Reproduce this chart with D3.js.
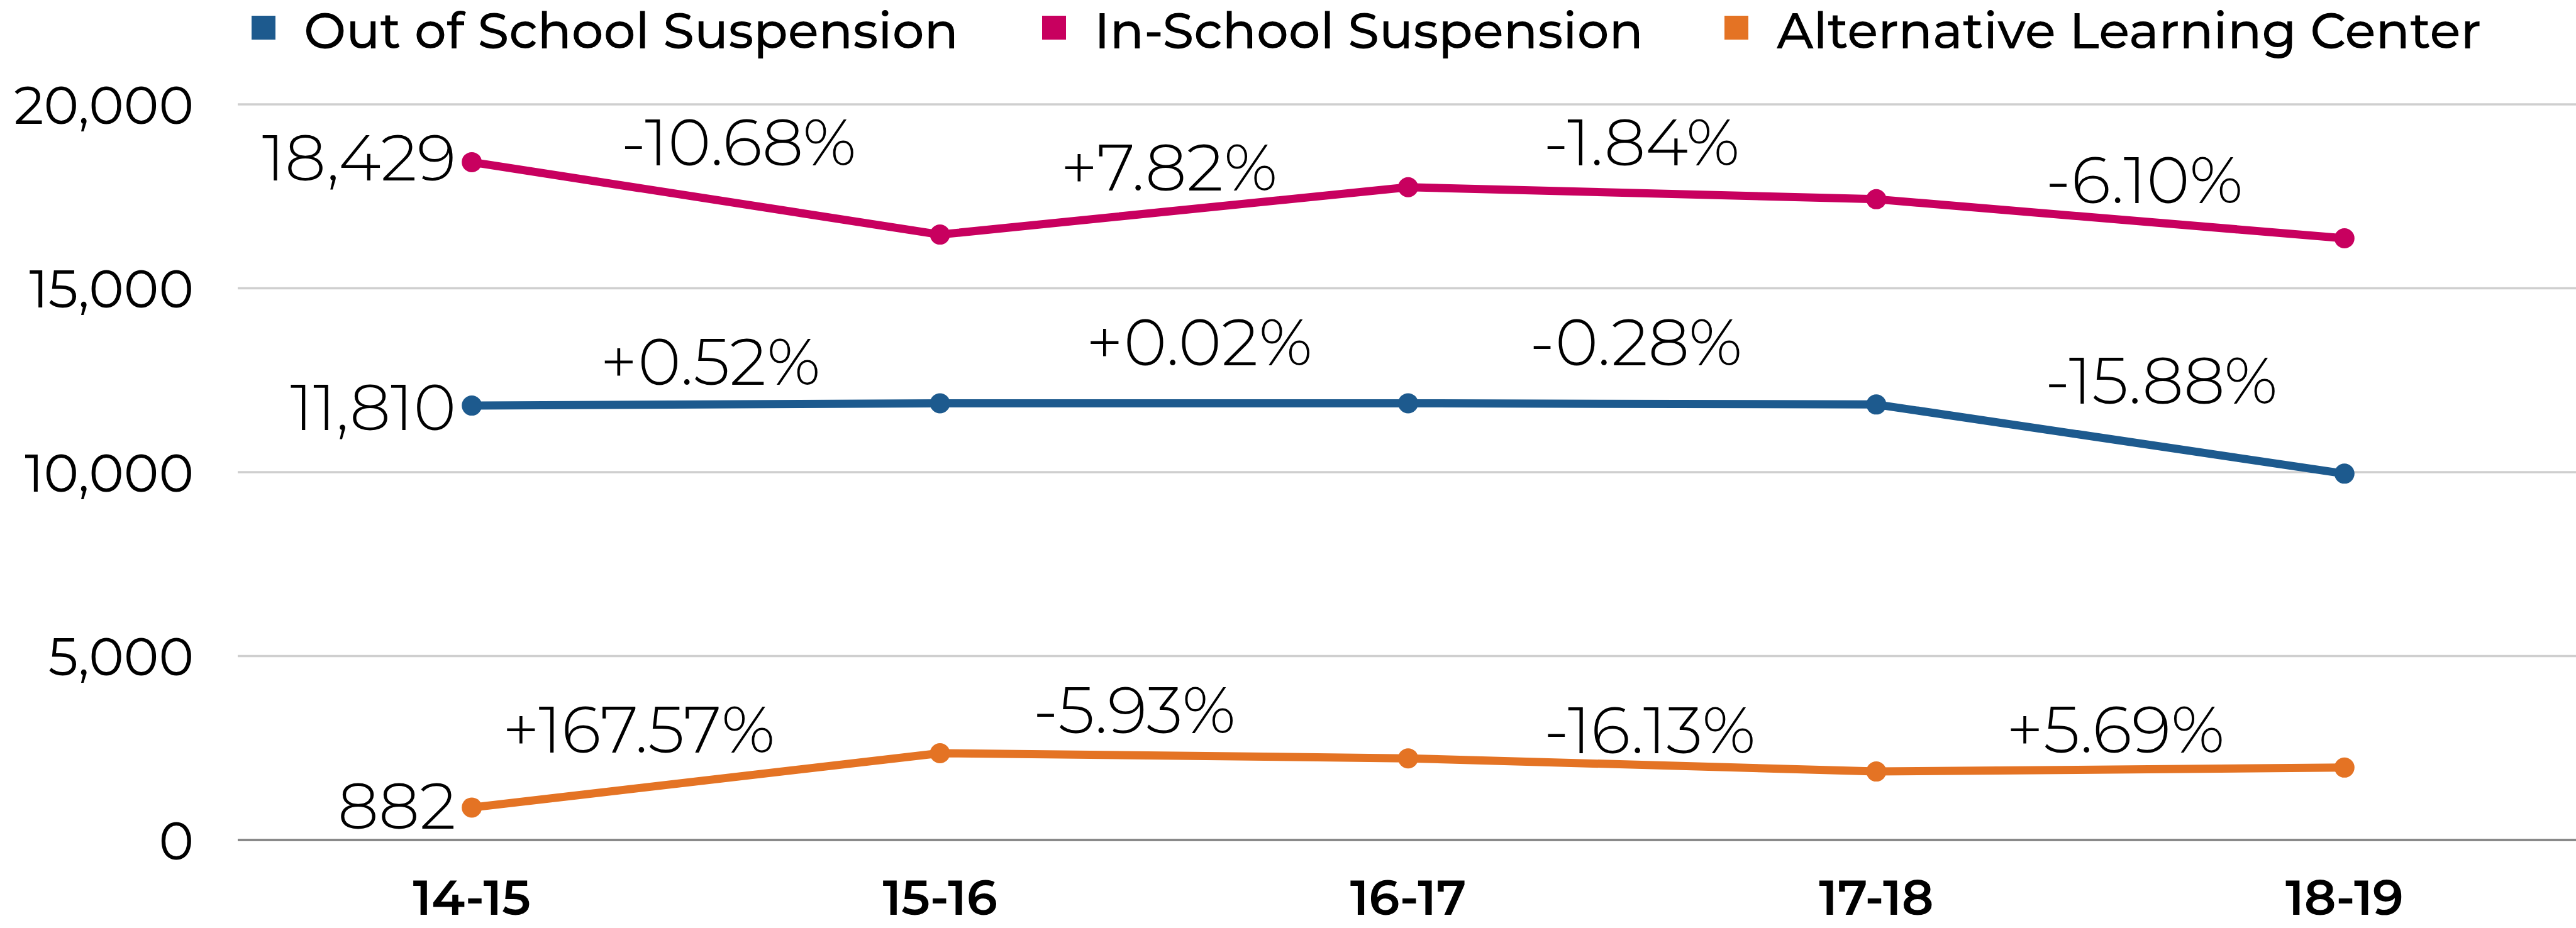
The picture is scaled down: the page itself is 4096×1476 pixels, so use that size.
<!DOCTYPE html>
<html>
<head>
<meta charset="utf-8">
<script src="https://cdn.jsdelivr.net/npm/d3@7"></script>
<style>
  html, body { margin: 0; padding: 0; background: #fff; }
  svg { display: block; }
</style>
</head>
<body>
<div id="chart"></div>
<script>
// chart data
const years = ["14-15", "15-16", "16-17", "17-18", "18-19"];
const seriesNames = ["Out of School Suspension", "In-School Suspension", "Alternative Learning Center"];
const seriesColors = ["#1D5A8E", "#C8005F", "#E47324"];
const outOfSchool = [11810, 11871, 11873, 11840, 9960];
const inSchool = [18429, 16460, 17748, 17421, 16358];
const altLearning = [882, 2360, 2220, 1862, 1968];
const outOfSchoolPct = ["+0.52%", "+0.02%", "-0.28%", "-15.88%"];
const inSchoolPct = ["-10.68%", "+7.82%", "-1.84%", "-6.10%"];
const altLearningPct = ["+167.57%", "-5.93%", "-16.13%", "+5.69%"];
const yTicks = [0, 5000, 10000, 15000, 20000];

// hand placed label nudges (dx, dy from the segment midpoint)
const pctNudge = [
  [[7, -31], [40, -60], [-10, -61], [81, -56]],
  [[52, -52], [-8, -32], [-1, -44], [54, -25]],
  [[-107, -44], [-63, -36], [12, -19], [8, -27]]
];
const firstLabelDy = [39, 29, 34];

const W = 4096, H = 1476;
const margin = { left: 378, right: 4100, top: 166, bottom: 1336 };
const FONT = "Montserrat, Lato, 'Open Sans', sans-serif";

const svg = d3.select("#chart").append("svg")
  .attr("width", W).attr("height", H)
  .attr("viewBox", [0, 0, W, H]);

const x = d3.scaleBand().domain(years).range([margin.left, margin.right]).padding(0);
const cx = (d) => x(d) + x.bandwidth() / 2;
const y = d3.scaleLinear().domain([0, 20000]).range([margin.bottom, margin.top]);

// gridlines
svg.append("g")
  .selectAll("line")
  .data(yTicks.filter((t) => t > 0))
  .join("line")
  .attr("x1", margin.left).attr("x2", margin.right)
  .attr("y1", (d) => y(d)).attr("y2", (d) => y(d))
  .attr("stroke", "#CFCFCF").attr("stroke-width", 3.5);

// y axis labels
const yAxis = d3.axisLeft(y).tickValues(yTicks).tickFormat(d3.format(",")).tickSize(0).tickPadding(0);
const yg = svg.append("g").attr("transform", "translate(308,0)").call(yAxis);
yg.select(".domain").remove();
yg.selectAll("text")
  .attr("font-family", FONT).attr("font-size", 84).attr("font-weight", 400)
  .attr("fill", "#000").attr("dy", "0.36em");

// x axis baseline
svg.append("line")
  .attr("x1", margin.left).attr("x2", margin.right)
  .attr("y1", y(0)).attr("y2", y(0))
  .attr("stroke", "#8A8A8A").attr("stroke-width", 4);

const xAxis = d3.axisBottom(x).tickSize(0).tickPadding(0);
const xg = svg.append("g").attr("transform", "translate(0,1455)").call(xAxis);
xg.select(".domain").remove();
xg.selectAll("text")
  .attr("font-family", FONT).attr("font-size", 78).attr("font-weight", 600)
  .attr("fill", "#000").attr("dy", 0);

// series
const allSeries = [outOfSchool, inSchool, altLearning];
const allPct = [outOfSchoolPct, inSchoolPct, altLearningPct];

const line = d3.line().x((d, i) => cx(years[i])).y((d) => y(d));

allSeries.forEach((vals, s) => {
  const g = svg.append("g").attr("data-name", seriesNames[s]);
  g.append("path")
    .datum(vals)
    .attr("d", line)
    .attr("fill", "none")
    .attr("stroke", seriesColors[s])
    .attr("stroke-width", 13)
    .attr("stroke-linejoin", "round");

  g.selectAll("circle")
    .data(vals)
    .join("circle")
    .attr("cx", (d, i) => cx(years[i]))
    .attr("cy", (d) => y(d))
    .attr("r", 16)
    .attr("fill", seriesColors[s]);

  // starting value label
  g.append("text")
    .attr("x", cx(years[0]) - 25)
    .attr("y", y(vals[0]) + firstLabelDy[s])
    .attr("text-anchor", "end")
    .attr("font-family", FONT).attr("font-size", 103).attr("font-weight", 300)
    .attr("fill", "#000")
    .text(d3.format(",")(vals[0]));

  // change labels
  g.selectAll("text.pct")
    .data(allPct[s])
    .join("text")
    .attr("class", "pct")
    .attr("x", (d, i) => (cx(years[i]) + cx(years[i + 1])) / 2 + pctNudge[s][i][0])
    .attr("y", (d, i) => (y(vals[i]) + y(vals[i + 1])) / 2 + pctNudge[s][i][1])
    .attr("text-anchor", "middle")
    .attr("font-family", FONT).attr("font-size", 104).attr("font-weight", 300)
    .attr("fill", "#000")
    .text((d) => d);
});

// legend
const legendX = [400, 1657, 2742];
const legend = svg.append("g").attr("class", "legend");
seriesNames.forEach((name, i) => {
  legend.append("rect")
    .attr("x", legendX[i]).attr("y", 25)
    .attr("width", 38).attr("height", 38)
    .attr("fill", seriesColors[i]);
  legend.append("text")
    .attr("x", legendX[i] + 83).attr("y", 77)
    .attr("font-family", FONT).attr("font-size", 80).attr("font-weight", 500)
    .attr("fill", "#000")
    .text(name);
});
</script>
</body>
</html>
